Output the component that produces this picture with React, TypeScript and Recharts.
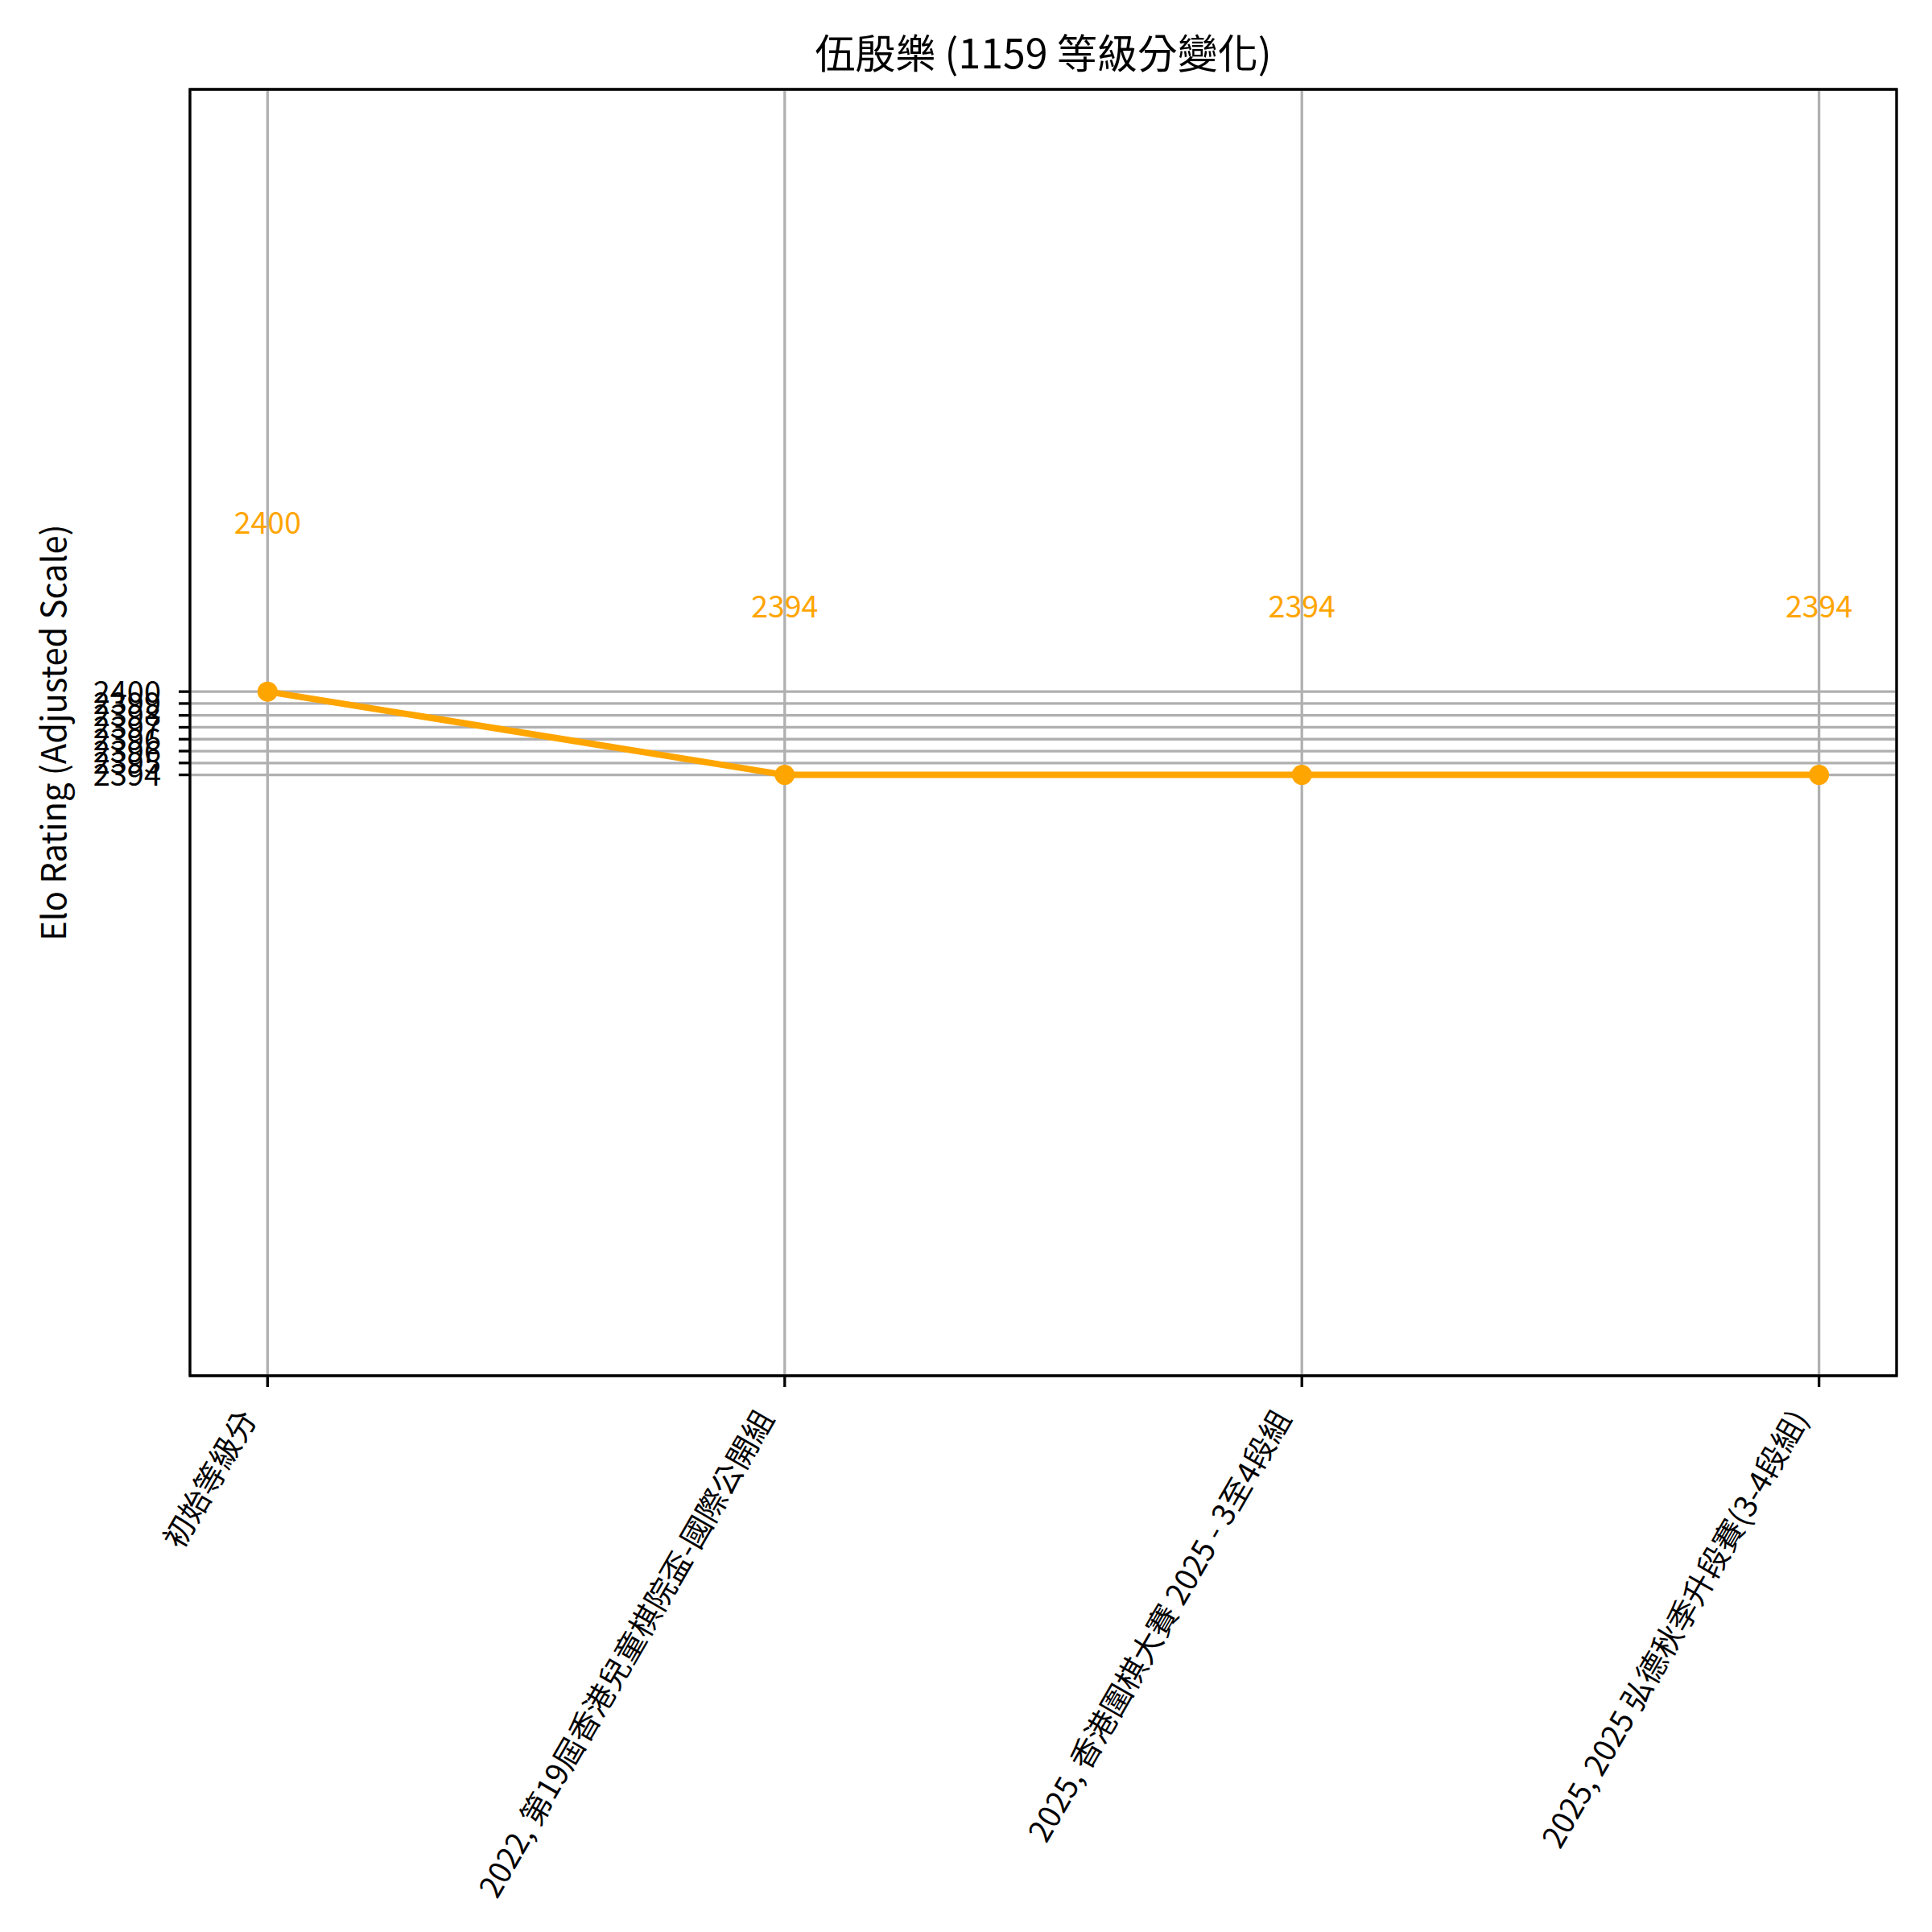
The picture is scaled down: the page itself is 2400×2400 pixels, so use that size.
import React from 'react';
import { LineChart, Line, XAxis, YAxis, CartesianGrid, ReferenceArea } from 'recharts';

const FONT = '"Noto Sans CJK TC", "Noto Sans", sans-serif';

const categories = [
  '初始等級分',
  '2022, 第19屆香港兒童棋院盃-國際公開組',
  '2025, 香港圍棋大賽 2025 - 3至4段組',
  '2025, 2025 弘德秋季升段賽(3-4段組)',
];
const ratings = [2400, 2394, 2394, 2394];
const yTicks = [2394, 2394.857, 2395.714, 2396.571, 2397.429, 2398.286, 2399.143, 2400];
const yTickLabels = ['2394', '2395', '2396', '2396', '2397', '2398', '2399', '2400'];

const xDomain: [number, number] = [-0.15, 3.15];
const yDomain: [number, number] = [2350.7, 2443.4];

const data = categories.map((c, i) => ({ idx: i, name: c, elo: ratings[i] }));

// rotated category labels, right end hooked under the tick
const XTick = (props: any) => {
  const { x, y, payload } = props;
  const ax = x - 12;
  const ay = y + 37;
  return (
    <text
      x={ax}
      y={ay}
      transform={`rotate(-60, ${ax}, ${ay})`}
      textAnchor="end"
      fontSize={38}
      fontFamily={FONT}
      fill="#000"
    >
      {categories[payload.value]}
    </text>
  );
};

const renderLabel = (props: any) => {
  const { x, y, value } = props;
  return (
    <text x={x} y={y - 196} textAnchor="middle" fontSize={37.5} fontFamily={FONT} fill="#FFA500">
      {value}
    </text>
  );
};

export default function App() {
  return (
    <div style={{ width: 2400, height: 2400, background: '#fff' }}>
      <style>{'body{margin:0}'}</style>
      <LineChart
        width={2400}
        height={2400}
        data={data}
        margin={{ top: 111, right: 44, bottom: 0, left: 0 }}
      >
        <CartesianGrid stroke="#b0b0b0" strokeWidth={3.3} />
        <XAxis
          type="number"
          dataKey="idx"
          domain={xDomain}
          ticks={[0, 1, 2, 3]}
          allowDataOverflow
          interval={0}
          height={691}
          axisLine={false}
          tickSize={14}
          tickLine={{ stroke: '#000', strokeWidth: 3.3 }}
          tick={<XTick />}
        />
        <YAxis
          type="number"
          domain={yDomain}
          ticks={yTicks}
          allowDataOverflow
          interval={0}
          width={236}
          axisLine={false}
          tickSize={14}
          tickMargin={22}
          tickLine={{ stroke: '#000', strokeWidth: 3.3 }}
          tick={{ fontSize: 38, fontFamily: FONT, fill: '#000' }}
          tickFormatter={(v: number) => yTickLabels[yTicks.indexOf(v)]}
        />
        <ReferenceArea
          x1={xDomain[0]}
          x2={xDomain[1]}
          y1={yDomain[0]}
          y2={yDomain[1]}
          fill="none"
          fillOpacity={0}
          stroke="#000"
          strokeWidth={3.3}
          ifOverflow="visible"
        />
        <Line
          type="linear"
          dataKey="elo"
          stroke="#FFA500"
          strokeWidth={8}
          dot={{ r: 12.5, fill: '#FFA500', stroke: '#FFA500', strokeWidth: 0 }}
          activeDot={false}
          label={renderLabel}
          isAnimationActive={false}
        />
        <text x={1296} y={85} textAnchor="middle" fontSize={50} fontFamily={FONT} fill="#000">
          伍殷樂 (1159 等級分變化)
        </text>
        <text
          x={82}
          y={910}
          transform="rotate(-90, 82, 910)"
          textAnchor="middle"
          fontSize={41.67}
          fontFamily={FONT}
          fill="#000"
        >
          Elo Rating (Adjusted Scale)
        </text>
      </LineChart>
    </div>
  );
}
